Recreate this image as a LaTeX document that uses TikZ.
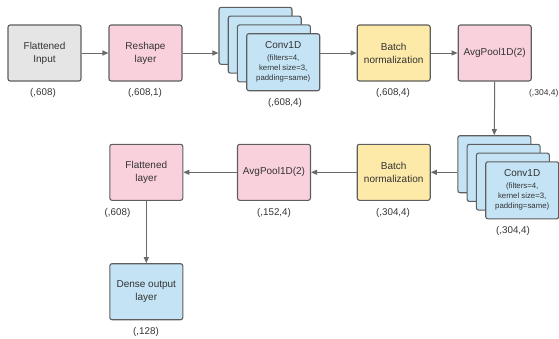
\documentclass[tikz,border=0pt]{standalone}
\usepackage{fontspec}
\setmainfont{Liberation Sans}
\usetikzlibrary{arrows.meta}
\definecolor{bordc}{HTML}{5E5E5E}
\definecolor{linec}{HTML}{6A6A6A}
\definecolor{grayf}{HTML}{E5E5E5}
\definecolor{pinkf}{HTML}{F9D1DD}
\definecolor{yellf}{HTML}{FEEAA8}
\definecolor{bluef}{HTML}{C4E3F5}
\definecolor{textc}{HTML}{333333}
\newcommand{\convsmall}{\fontsize{7.8}{9}\selectfont}
\tikzset{
  blk/.style={draw=bordc, line width=1.1pt, rounded corners=2.2pt, minimum width=73pt, minimum height=56pt,
    inner sep=0pt, align=center, text=textc, font=\fontsize{10}{13}\selectfont},
  convbox/.style={blk, fill=bluef, minimum height=57pt},
  lbl/.style={text=textc, font=\fontsize{9.8}{11}\selectfont, inner sep=0pt},
  conn/.style={draw=linec, line width=1pt, -{Triangle[length=6pt,width=5pt]}}
}
\begin{document}
\begin{tikzpicture}[x=1pt,y=-1pt]
\useasboundingbox (0,0) rectangle (559,338);
% row 1
\node[blk, fill=grayf] (in) at (44.5,53) {Flattened\\Input};
\node[blk, fill=pinkf] (rs) at (145.5,53) {Reshape\\layer};
\node[convbox] (c1a) at (255.5,35.8) {};
\node[convbox] (c1b) at (264.7,44.6) {};
\node[convbox] (c1c) at (273.9,53.4) {};
\node[convbox] (c1d) at (283.2,62.2) {Conv1D\\[-1pt]{\convsmall (filters=4,}\\[-3pt]{\convsmall kernel size=3,}\\[-3pt]{\convsmall padding=same)}};
\node[blk, fill=yellf] (bn1) at (393.7,53) {Batch\\normalization};
\node[blk, fill=pinkf] (ap1) at (494.7,53) {AvgPool1D(2)};
% row 2
\node[convbox] (c2a) at (494.3,164.2) {};
\node[convbox] (c2b) at (503.6,172.9) {};
\node[convbox] (c2c) at (512.9,181.6) {};
\node[convbox] (c2d) at (522.2,190.3) {Conv1D\\[-1pt]{\convsmall (filters=4,}\\[-3pt]{\convsmall kernel size=3,}\\[-3pt]{\convsmall padding=same)}};
\node[blk, fill=yellf] (bn2) at (393.7,172.3) {Batch\\normalization};
\node[blk, fill=pinkf] (ap2) at (274,172.3) {AvgPool1D(2)};
\node[blk, fill=pinkf] (fl) at (146.3,172.3) {Flattened\\layer};
\node[blk, fill=bluef] (de) at (146.3,291.7) {Dense output\\layer};
% labels
\node[lbl] (l1) at (43,93) {(,608)};
\node[lbl] (l2) at (145,93) {(,608,1)};
\node[lbl] (l3) at (285,102.5) {(,608,4)};
\node[lbl] (l4) at (393,93) {(,608,4)};
\node[lbl, font=\fontsize{8.5}{10}\selectfont] (l5) at (543.8,93) {(,304,4)};
\node[lbl] (l6) at (513,231) {(,304,4)};
\node[lbl] (l7) at (393,213) {(,304,4)};
\node[lbl] (l8) at (274,213) {(,152,4)};
\node[lbl] (l9) at (117.5,213) {(,608)};
\node[lbl] (l10) at (146,332) {(,128)};
% connectors
\draw[conn] (in.east) -- (rs.west);
\draw[conn] (rs.east) -- (rs.east -| c1a.west);
\draw[conn] (c1d.east |- bn1.west) -- (bn1.west);
\draw[conn] (bn1.east) -- (ap1.west);
\draw[conn] (ap1.south) -- (c2a.north);
\draw[conn] (bn2.east -| c2a.west) -- (bn2.east);
\draw[conn] (bn2.west) -- (ap2.east);
\draw[conn] (ap2.west) -- (fl.east);
\draw[conn] (fl.south) -- (de.north);
\end{tikzpicture}
\end{document}
